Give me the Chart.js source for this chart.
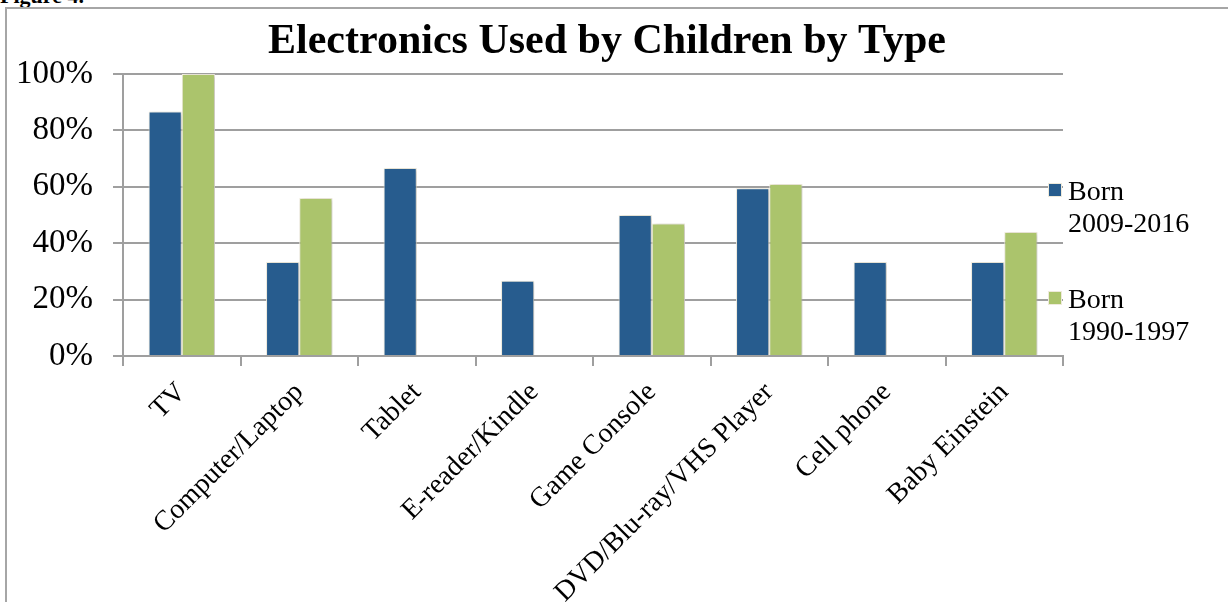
<!DOCTYPE html>
<html>
<head>
<meta charset="utf-8">
<script src="https://cdn.jsdelivr.net/npm/chart.js@4.4.1/dist/chart.umd.min.js"></script>
<style>
  html, body { margin: 0; padding: 0; background: #fff; overflow: hidden; }
  #frame {
    position: absolute; left: 5px; top: 7px; width: 1400px; height: 800px;
    border-left: 2px solid #a6a6a6; border-top: 2px solid #a6a6a6;
  }
  #fig {
    position: absolute; left: 0; top: -17px;
    font: bold 22px "Liberation Serif", serif; color: #000;
  }
  #wrap { position: absolute; left: 0; top: 0; width: 1228px; height: 602px; }
</style>
</head>
<body>
<div id="fig">Figure 4.</div>
<div id="frame"></div>
<div id="wrap"><canvas id="chart" width="1228" height="602"></canvas></div>
<script>
// Electronics used by children, percentage by device type
var chartTitle = 'Electronics Used by Children by Type';
var categories = ['TV', 'Computer/Laptop', 'Tablet', 'E-reader/Kindle', 'Game Console',
                  'DVD/Blu-ray/VHS Player', 'Cell phone', 'Baby Einstein'];
var born2009 = [86.7, 33.3, 66.7, 26.7, 50, 59.5, 33.3, 33.3];
var born1990 = [100, 56, null, null, 47, 61, null, 44];
var seriesNames = [['Born', '2009-2016'], ['Born', '1990-1997']];
var yTicks = [0, 20, 40, 60, 80, 100];

var serif = '"Liberation Serif", "Times New Roman", serif';

// soft shadow behind the bars, like the office chart
var barShadow = {
    id: 'barShadow',
    beforeDatasetsDraw: function(chart) {
        var c = chart.ctx;
        c.save();
        c.shadowColor = 'rgba(0, 0, 0, 0.22)';
        c.shadowBlur = 4;
        c.shadowOffsetX = 2;
        c.shadowOffsetY = 1;
    },
    afterDatasetsDraw: function(chart) {
        chart.ctx.restore();
    }
};

// title centred on the whole figure, legend on the right with two-line labels
var titleAndLegend = {
    id: 'titleAndLegend',
    afterDraw: function(chart) {
        var c = chart.ctx;
        var area = chart.chartArea;
        c.save();
        c.fillStyle = '#000';
        c.font = 'bold 42px ' + serif;
        c.textAlign = 'center';
        c.textBaseline = 'alphabetic';
        c.fillText(chartTitle, 607, 53);

        var x = area.right - 15;
        var tops = [area.top + 109, area.top + 217];
        chart.data.datasets.forEach(function(ds, i) {
            var y = tops[i];
            c.fillStyle = ds.backgroundColor;
            c.fillRect(x, y, 14, 14);
            c.strokeStyle = '#eeeadb';
            c.lineWidth = 1;
            c.strokeRect(x + 0.5, y + 0.5, 13, 13);
            c.fillStyle = '#000';
            c.font = '28px ' + serif;
            c.textAlign = 'left';
            ds.label.forEach(function(line, j) {
                c.fillText(line, x + 20, y + 17 + j * 32);
            });
        });
        c.restore();
    }
};

new Chart(document.getElementById('chart').getContext('2d'), {
    type: 'bar',
    data: {
        labels: categories,
        datasets: [{
            label: seriesNames[0],
            data: born2009,
            backgroundColor: '#275c8e',
            borderColor: '#f3efe0',
            borderWidth: 1
        }, {
            label: seriesNames[1],
            data: born1990,
            backgroundColor: '#abc46c',
            borderColor: '#f3efe0',
            borderWidth: 1
        }]
    },
    options: {
        responsive: false,
        animation: false,
        categoryPercentage: 0.565,
        barPercentage: 1,
        layout: {
            padding: { left: 0, right: 165, top: 74, bottom: 0 }
        },
        scales: {
            y: {
                min: 0,
                max: 100,
                afterFit: function(scale) { scale.width = 123; },
                afterBuildTicks: function(scale) {
                    scale.ticks = yTicks.map(function(v) { return { value: v }; });
                },
                ticks: {
                    color: '#000',
                    padding: 20,
                    font: { family: serif, size: 33 },
                    callback: function(v) { return v + '%'; }
                },
                grid: {
                    color: '#9f9f9f',
                    lineWidth: 2,
                    tickLength: 10
                },
                border: { display: true, color: '#9f9f9f', width: 2 }
            },
            x: {
                afterFit: function(scale) { scale.height = 246; },
                ticks: {
                    color: '#000',
                    minRotation: 45,
                    maxRotation: 45,
                    padding: 10,
                    autoSkip: false,
                    font: { family: serif, size: 28 }
                },
                grid: {
                    drawOnChartArea: false,
                    color: '#9f9f9f',
                    lineWidth: 2,
                    tickLength: 10
                },
                border: { display: true, color: '#9f9f9f', width: 2 }
            }
        },
        plugins: {
            legend: { display: false },
            tooltip: { enabled: false },
            title: { display: false }
        }
    },
    plugins: [barShadow, titleAndLegend]
});
</script>
</body>
</html>
